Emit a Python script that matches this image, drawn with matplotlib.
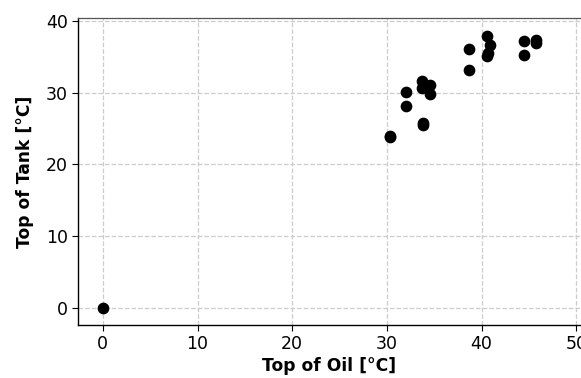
import matplotlib
matplotlib.use("Agg")
import matplotlib.pyplot as plt

top_of_oil = [0.0, 30.3, 30.3, 32.0, 32.0, 33.8, 33.8, 33.7, 33.7, 34.6, 34.6,
              38.7, 38.7, 40.6, 40.9, 40.7, 40.6, 44.5, 44.5, 45.8, 45.8]
top_of_tank = [0.0, 24.0, 23.8, 28.1, 30.1, 25.8, 25.5, 31.6, 30.7, 31.1, 29.8,
               36.1, 33.1, 37.9, 36.7, 35.5, 35.1, 37.2, 35.2, 37.3, 37.0]
xticks = [0, 10, 20, 30, 40, 50]
yticks = [0, 10, 20, 30, 40]

plt.rcParams['font.family'] = ['DejaVu Sans']
fig = plt.figure(figsize=(5.81, 3.78), dpi=100)
ax = fig.add_axes([0.134, 0.140, 0.866, 0.812])
ax.scatter(top_of_oil, top_of_tank, s=55, color='black', zorder=3)
ax.set_xlim(-2.64, 50.5)
ax.set_ylim(-2.4, 40.4)
ax.set_xticks(xticks)
ax.set_yticks(yticks)
ax.grid(True, linestyle='--', color='#cccccc', linewidth=0.9)
ax.set_axisbelow(True)
ax.spines['right'].set_visible(False)
for s in ['left', 'bottom']:
    ax.spines[s].set_color('black')
    ax.spines[s].set_linewidth(1.0)
ax.spines['top'].set_color('#555555')
ax.spines['top'].set_linewidth(0.9)
ax.tick_params(labelsize=12.5, length=4, pad=3)
ax.set_xlabel('Top of Oil [°C]', fontsize=12.3, fontweight='bold', labelpad=3)
ax.set_ylabel('Top of Tank [°C]', fontsize=12.3, fontweight='bold', labelpad=9)
fig.savefig('out.png', dpi=100)
